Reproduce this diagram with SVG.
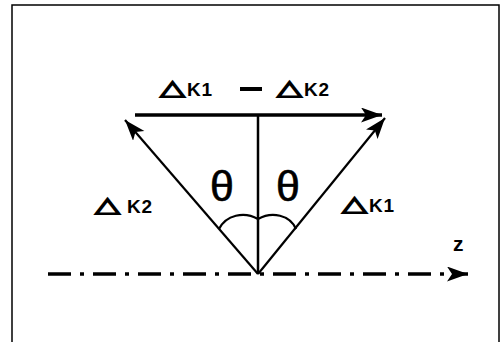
<svg xmlns="http://www.w3.org/2000/svg" width="502" height="342" viewBox="0 0 502 342">
<style>
.lbl{font-family:"Liberation Sans",Arial,sans-serif;font-weight:bold;fill:#000}
.k{font-size:19px;letter-spacing:0.8px}
.dl{font-family:"DejaVu Sans",sans-serif;font-size:21px;fill:#000;stroke:#000;stroke-width:1.4}
.th{font-family:"Liberation Sans",Arial,sans-serif;font-size:43px;fill:#000;stroke:#000;stroke-width:0.6}
.ln{stroke:#000;fill:none;stroke-linecap:butt}
</style>
<defs>
<marker id="ah" markerUnits="userSpaceOnUse" markerWidth="22" markerHeight="16" refX="21" refY="7.5" orient="auto" viewBox="0 0 22 16">
<path d="M0,0 L21,7.5 L0,15 L5,7.5 z" fill="#000"/>
</marker>
</defs>
<rect x="12" y="5" width="487" height="345" fill="#fff" stroke="#000" stroke-width="1.5"/>
<g id="connectors">
<line class="ln" x1="48" y1="274" x2="468" y2="274" stroke-width="3.5" stroke-dasharray="23 9 4 9" marker-end="url(#ah)"/>
<line class="ln" x1="135" y1="115" x2="382" y2="115" stroke-width="3.5" marker-end="url(#ah)"/>
<line class="ln" x1="258" y1="115" x2="258" y2="274" stroke-width="2.5"/>
<line class="ln" x1="258" y1="274" x2="125" y2="120" stroke-width="2.2" marker-end="url(#ah)"/>
<line class="ln" x1="258" y1="274" x2="385" y2="118" stroke-width="2.2" marker-end="url(#ah)"/>
<path class="ln" d="M219,229 C226,215 244,211 258,219 C272,211 290,215 296,229" stroke-width="2.2"/>
</g>
<g id="label-diff">
<text class="dl" transform="translate(160,95) scale(1.55,1)">△</text>
<text class="lbl k" x="187" y="96">K1</text>
<rect x="240" y="87" width="22" height="4" fill="#000"/>
<text class="dl" transform="translate(277,95) scale(1.55,1)">△</text>
<text class="lbl k" x="304" y="96">K2</text>
</g>
<g id="label-k2">
<text class="dl" transform="translate(95,212) scale(1.55,1)">△</text>
<text class="lbl k" x="127" y="213">K2</text>
</g>
<g id="label-k1">
<text class="dl" transform="translate(342,211) scale(1.55,1)">△</text>
<text class="lbl k" x="369" y="212">K1</text>
</g>
<g id="theta-left"><text class="th" x="210" y="201">θ</text></g>
<g id="theta-right"><text class="th" x="276" y="201">θ</text></g>
<g id="label-z"><text class="lbl" font-size="21" x="453" y="251">z</text></g>
</svg>
